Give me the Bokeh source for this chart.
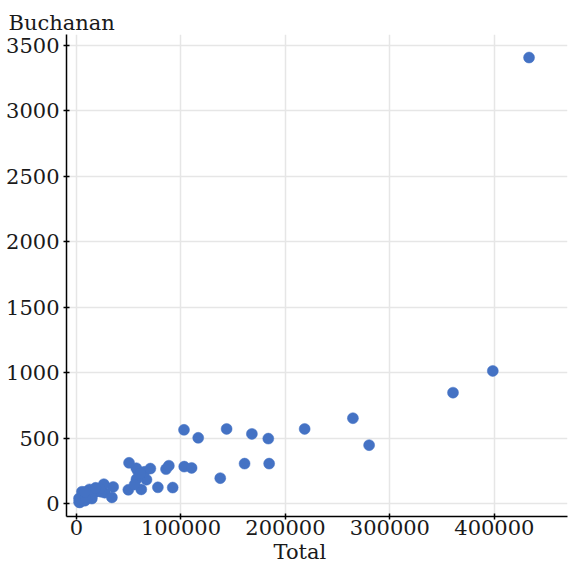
from bokeh.plotting import figure
from bokeh.models import FixedTicker, Range1d, Title, ColumnDataSource
from bokeh.embed import file_html
from bokeh.resources import INLINE

counties = ["Alachua","Baker","Bay","Bradford","Brevard","Calhoun","Charlotte","Citrus","Clay","Collier",
            "Columbia","DeSoto","Dixie","Duval","Escambia","Flagler","Franklin","Gadsden","Gilchrist","Glades",
            "Gulf","Hamilton","Hardee","Hendry","Hernando","Highlands","Hillsborough","Holmes","Indian River","Jackson",
            "Jefferson","Lafayette","Lake","Lee","Leon","Levy","Liberty","Madison","Manatee","Marion",
            "Martin","Monroe","Nassau","Okaloosa","Okeechobee","Orange","Osceola","Palm Beach","Pasco","Pinellas",
            "Polk","Putnam","St. Johns","St. Lucie","Santa Rosa","Sarasota","Seminole","Sumter","Suwannee","Taylor",
            "Union","Volusia","Wakulla","Walton","Washington"]
total = [85700, 8150, 58800, 8700, 218400, 5200, 67000, 57200, 57400, 92100,
         18500, 7800, 4600, 264600, 116500, 27100, 4600, 14700, 5400, 3300,
         6100, 3900, 6200, 8100, 65000, 35100, 360400, 7400, 49600, 16300,
         5600, 2500, 88400, 184400, 103100, 12700, 2400, 6100, 110200, 102900,
         62000, 33900, 23700, 70700, 9800, 280100, 55600, 433200, 143700, 398500,
         167900, 26200, 60900, 77900, 50300, 160900, 137600, 22200, 12400, 6800,
         3800, 183600, 8600, 18300, 8000]
buchanan = [263, 73, 248, 65, 570, 90, 182, 270, 186, 122,
            89, 36, 29, 652, 502, 83, 33, 38, 29, 9,
            71, 24, 30, 22, 242, 127, 847, 76, 105, 102,
            29, 10, 289, 305, 282, 67, 39, 29, 272, 563,
            108, 47, 90, 267, 43, 446, 145, 3407, 570, 1013,
            532, 148, 229, 124, 311, 305, 194, 114, 108, 27,
            37, 496, 46, 120, 88]
x_ticks = [0, 100000, 200000, 300000, 400000]
y_ticks = [0, 500, 1000, 1500, 2000, 2500, 3000, 3500]
x_title = "Total"
y_title = "Buchanan"

FONT = "DejaVu Serif"
FS = "21px"
TXT = "#1a1a1a"

src = ColumnDataSource(dict(county=counties, total=total, buchanan=buchanan))

p = figure(width=568, height=564, output_backend="svg", toolbar_location=None,
           x_range=Range1d(-9570, 470000), y_range=Range1d(-99, 3583),
           min_border_left=66, min_border_right=1, min_border_top=34, min_border_bottom=48)
p.outline_line_color = None

p.scatter("total", "buchanan", source=src, size=11, fill_color="#4472c4",
          line_color="#4472c4", line_width=0.5)

for ax in (p.xaxis[0], p.yaxis[0]):
    ax.axis_line_color = "black"
    ax.axis_line_width = 1.5
    ax.major_tick_line_color = "black"
    ax.major_tick_line_width = 1.5
    ax.major_tick_in = 3
    ax.major_tick_out = 3
    ax.minor_tick_line_color = None
    ax.major_label_text_font = FONT
    ax.major_label_text_font_size = FS
    ax.major_label_text_color = TXT

p.xaxis[0].major_label_standoff = 0
p.yaxis[0].major_label_standoff = 4
p.xaxis[0].ticker = FixedTicker(ticks=x_ticks)
p.yaxis[0].ticker = FixedTicker(ticks=y_ticks)
p.xaxis[0].formatter.use_scientific = False
p.yaxis[0].formatter.use_scientific = False

p.grid.grid_line_color = "#e6e6e6"
p.grid.grid_line_width = 1.5
p.xgrid.ticker = FixedTicker(ticks=x_ticks)
p.ygrid.ticker = FixedTicker(ticks=y_ticks)

t = Title(text=y_title, align="left", offset=-58, text_font=FONT,
          text_font_size=FS, text_font_style="normal", text_color=TXT,
          standoff=0)
p.add_layout(t, "above")

tb = Title(text=x_title, align="left", offset=207, text_font=FONT,
           text_font_size=FS, text_font_style="normal", text_color=TXT,
           standoff=0)
p.add_layout(tb, "below")

open("out.html", "w").write(file_html(p, INLINE))
